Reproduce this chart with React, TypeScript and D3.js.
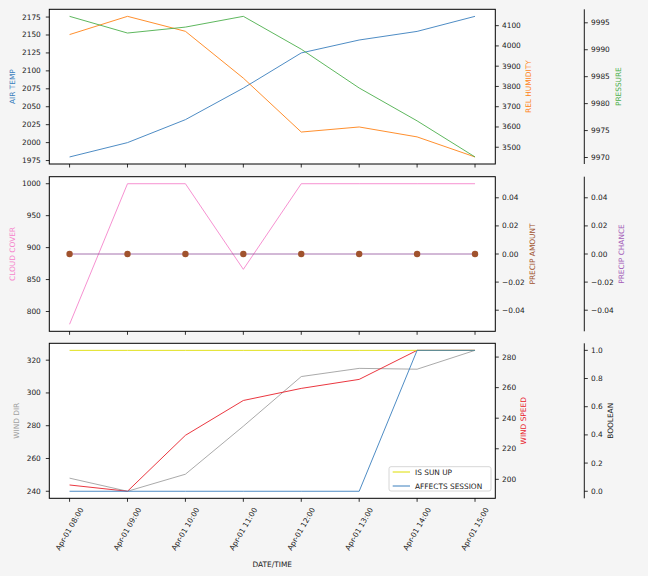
import React from "react";
import * as d3 from "d3";

const hours = ["08:00", "09:00", "10:00", "11:00", "12:00", "13:00", "14:00", "15:00"];
const times = hours.map((h) => new Date(2024, 3, 1, +h.slice(0, 2), 0));

const airTemp = [1980, 2000, 2032, 2076, 2125, 2143, 2155, 2176];
const relHumidity = [4056, 4146, 4072, 3841, 3575, 3600, 3551, 3452];
const pressure = [9996.2, 9993.1, 9994.2, 9996.2, 9990.1, 9982.9, 9976.8, 9970.1];
const cloudCover = [780, 1000, 1000, 866, 1000, 1000, 1000, 1000];
const precipAmount = [0, 0, 0, 0, 0, 0, 0, 0];
const precipChance = [0, 0, 0, 0, 0, 0, 0, 0];
const windDir = [248, 240, 250.4, 279.7, 310, 315, 314.5, 326];
const windSpeed = [196.3, 192.2, 228.8, 251.6, 259.5, 265.4, 284.4, 284.4];
const isSunUp = [1, 1, 1, 1, 1, 1, 1, 1];
const affectsSession = [0, 0, 0, 0, 0, 0, 1, 1];

const airTempTicks = [1975, 2000, 2025, 2050, 2075, 2100, 2125, 2150, 2175];
const humidityTicks = [3500, 3600, 3700, 3800, 3900, 4000, 4100];
const pressureTicks = [9970, 9975, 9980, 9985, 9990, 9995];
const cloudTicks = [800, 850, 900, 950, 1000];
const precipTicks = [-0.04, -0.02, 0, 0.02, 0.04];
const windDirTicks = [240, 260, 280, 300, 320];
const windSpeedTicks = [200, 220, 240, 260, 280];
const boolTicks = [0, 0.2, 0.4, 0.6, 0.8, 1.0];

const FONT = "DejaVu Sans";
const FS = 7.4;
const LEFT = 49.3;
const RIGHT = 495.3;
const RIGHT2 = 584.3;
const panels = [
  { top: 9.3, bottom: 164 },
  { top: 176.7, bottom: 331.3 },
  { top: 343.3, bottom: 498.3 },
];

const C = {
  blue: "#3a7fbd",
  orange: "#ff8216",
  green: "#4caf4c",
  pink: "#f584cc",
  brown: "#a0522d",
  purple: "#8f4e9a",
  gray: "#a0a0a0",
  red: "#e8202a",
  yellow: "#dede00",
};

const t0 = times[0].getTime();
const t1 = times[times.length - 1].getTime();
const pad = (t1 - t0) * 0.05;
const x = d3.scaleTime().domain([new Date(t0 - pad), new Date(t1 + pad)]).range([LEFT, RIGHT]);

function padDomain(vals: number[]): [number, number] {
  const mn = d3.min(vals)!;
  const mx = d3.max(vals)!;
  if (mn === mx) return [mn - 0.055, mx + 0.055];
  const m = (mx - mn) * 0.05;
  return [mn - m, mx + m];
}

function yScale(vals: number[], p: { top: number; bottom: number }) {
  return d3.scaleLinear().domain(padDomain(vals)).range([p.bottom, p.top]);
}

function fmt(v: number, digits: number) {
  const s = v.toFixed(digits);
  return s.startsWith("-") ? "\u2212" + s.slice(1) : s;
}

function Series({ vals, y, color, width = 0.9 }: { vals: number[]; y: d3.ScaleLinear<number, number>; color: string; width?: number }) {
  const line = d3
    .line<number>()
    .x((_, i) => x(times[i]))
    .y((d) => y(d));
  return <path d={line(vals) || ""} fill="none" stroke={color} strokeWidth={width} strokeLinejoin="round" />;
}

function LeftAxis({ y, ticks, digits, label, color, labelX, p }: any) {
  return (
    <g>
      {ticks.map((t: number) => (
        <g key={t}>
          <line x1={LEFT - 3.5} x2={LEFT} y1={y(t)} y2={y(t)} stroke="#000" strokeWidth={0.8} />
          <text x={LEFT - 8.5} y={y(t)} textAnchor="end" dominantBaseline="central" fontSize={FS} fontFamily={FONT} fill="#222">
            {fmt(t, digits)}
          </text>
        </g>
      ))}
      <text
        transform={`translate(${labelX},${(p.top + p.bottom) / 2}) rotate(-90)`}
        textAnchor="middle"
        dominantBaseline="central"
        fontSize={FS}
        fontFamily={FONT}
        fill={color}
      >
        {label}
      </text>
    </g>
  );
}

function RightAxis({ y, ticks, digits, label, color, labelX, p, xPos, spine }: any) {
  return (
    <g>
      {spine && <line x1={xPos} x2={xPos} y1={p.top} y2={p.bottom} stroke="#000" strokeWidth={0.9} />}
      {ticks.map((t: number) => (
        <g key={t}>
          <line x1={xPos} x2={xPos + 3.5} y1={y(t)} y2={y(t)} stroke="#000" strokeWidth={0.8} />
          <text x={xPos + 6.7} y={y(t)} textAnchor="start" dominantBaseline="central" fontSize={FS} fontFamily={FONT} fill="#222">
            {fmt(t, digits)}
          </text>
        </g>
      ))}
      <text
        transform={`translate(${labelX},${(p.top + p.bottom) / 2}) rotate(-90)`}
        textAnchor="middle"
        dominantBaseline="central"
        fontSize={FS}
        fontFamily={FONT}
        fill={color}
      >
        {label}
      </text>
    </g>
  );
}

function Frame({ p }: { p: { top: number; bottom: number } }) {
  return (
    <g>
      <rect x={LEFT} y={p.top} width={RIGHT - LEFT} height={p.bottom - p.top} fill="none" stroke="#000" strokeWidth={1} />
      {times.map((t, i) => (
        <line key={i} x1={x(t)} x2={x(t)} y1={p.bottom} y2={p.bottom + 3.5} stroke="#000" strokeWidth={0.8} />
      ))}
    </g>
  );
}

export default function App() {
  const p0 = panels[0];
  const p1 = panels[1];
  const p2 = panels[2];
  const yAir = yScale(airTemp, p0);
  const yHum = yScale(relHumidity, p0);
  const yPres = yScale(pressure, p0);
  const yCloud = yScale(cloudCover, p1);
  const yPA = yScale(precipAmount, p1);
  const yPC = yScale(precipChance, p1);
  const yWD = yScale(windDir, p2);
  const yWS = yScale(windSpeed, p2);
  const yBool = d3.scaleLinear().domain([-0.05, 1.05]).range([p2.bottom, p2.top]);
  const fmtTime = d3.timeFormat("%b-%d %H:%M");

  return (
    <svg width={648} height={576} style={{ position: "absolute", left: 0, top: 0, display: "block" }}>
      <rect x={0} y={0} width={648} height={576} fill="#f5f5f5" />
      {panels.map((p, i) => (
        <rect key={i} x={LEFT} y={p.top} width={RIGHT - LEFT} height={p.bottom - p.top} fill="#fff" />
      ))}

      {/* Panel 1 */}
      <Series vals={airTemp} y={yAir} color={C.blue} />
      <Series vals={relHumidity} y={yHum} color={C.orange} />
      <Series vals={pressure} y={yPres} color={C.green} />
      <Frame p={p0} />
      <LeftAxis y={yAir} ticks={airTempTicks} digits={0} label="AIR TEMP" color={C.blue} labelX={12} p={p0} />
      <RightAxis y={yHum} ticks={humidityTicks} digits={0} label="REL HUMIDITY" color={C.orange} labelX={528.7} p={p0} xPos={RIGHT} spine={false} />
      <RightAxis y={yPres} ticks={pressureTicks} digits={0} label="PRESSURE" color={C.green} labelX={618.7} p={p0} xPos={RIGHT2} spine={true} />

      {/* Panel 2 */}
      <Series vals={cloudCover} y={yCloud} color={C.pink} />
      <Series vals={precipChance} y={yPC} color={C.purple} width={0.8} />
      {precipAmount.map((v, i) => (
        <circle key={i} cx={x(times[i])} cy={yPA(v)} r={3.2} fill={C.brown} />
      ))}
      <Frame p={p1} />
      <LeftAxis y={yCloud} ticks={cloudTicks} digits={0} label="CLOUD COVER" color={C.pink} labelX={12} p={p1} />
      <RightAxis y={yPA} ticks={precipTicks} digits={2} label="PRECIP AMOUNT" color={C.brown} labelX={532.7} p={p1} xPos={RIGHT} spine={false} />
      <RightAxis y={yPC} ticks={precipTicks} digits={2} label="PRECIP CHANCE" color="#a45cb8" labelX={621.7} p={p1} xPos={RIGHT2} spine={true} />

      {/* Panel 3 */}
      <Series vals={windDir} y={yWD} color={C.gray} />
      <Series vals={windSpeed} y={yWS} color={C.red} />
      <Series vals={isSunUp} y={yBool} color={C.yellow} />
      <Series vals={affectsSession} y={yBool} color={C.blue} />
      <Frame p={p2} />
      <LeftAxis y={yWD} ticks={windDirTicks} digits={0} label="WIND DIR" color={C.gray} labelX={16.7} p={p2} />
      <RightAxis y={yWS} ticks={windSpeedTicks} digits={0} label="WIND SPEED" color={C.red} labelX={523} p={p2} xPos={RIGHT} spine={false} />
      <RightAxis y={yBool} ticks={boolTicks} digits={1} label="BOOLEAN" color="#222" labelX={610.7} p={p2} xPos={RIGHT2} spine={true} />

      {/* x tick labels */}
      {times.map((t, i) => (
        <text
          key={i}
          transform={`translate(${x(t)},529) rotate(-60)`}
          textAnchor="middle"
          dominantBaseline="central"
          fontSize={FS}
          fontFamily={FONT}
          fill="#222"
        >
          {fmtTime(t)}
        </text>
      ))}
      <text x={(LEFT + RIGHT) / 2} y={564} textAnchor="middle" dominantBaseline="central" fontSize={FS} fontFamily={FONT} fill="#222">
        DATE/TIME
      </text>

      {/* legend */}
      <g>
        <rect x={389} y={466.7} width={102} height={24.3} rx={2} fill="#fff" fillOpacity={0.8} stroke="#cccccc" strokeWidth={0.8} />
        <line x1={392.7} x2={410} y1={472} y2={472} stroke={C.yellow} strokeWidth={1} />
        <text x={415} y={472} dominantBaseline="central" fontSize={FS} fontFamily={FONT} fill="#222">IS SUN UP</text>
        <line x1={392.7} x2={410} y1={486} y2={486} stroke={C.blue} strokeWidth={1} />
        <text x={415} y={486} dominantBaseline="central" fontSize={FS} fontFamily={FONT} fill="#222">AFFECTS SESSION</text>
      </g>
    </svg>
  );
}
